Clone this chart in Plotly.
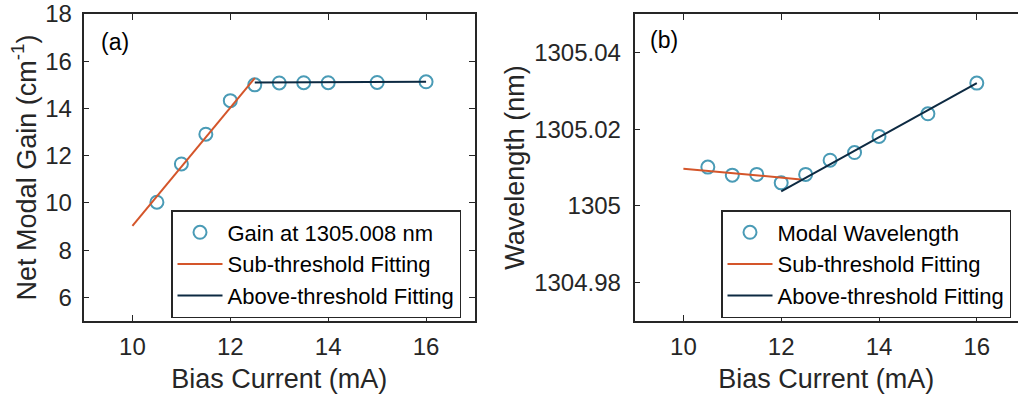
import plotly.graph_objects as go

# ---- data ----
bias_current = [10.5, 11, 11.5, 12, 12.5, 13, 13.5, 14, 15, 16]
gain = [10.03, 11.65, 12.91, 14.33, 15.0, 15.08, 15.09, 15.09, 15.1, 15.13]
gain_sub_x = [10, 12.5]
gain_sub_y = [9.03, 15.28]
gain_above_x = [12.5, 16]
gain_above_y = [15.1, 15.13]

wavelength = [1305.0101, 1305.0080, 1305.0082, 1305.0060, 1305.0082,
              1305.0119, 1305.0139, 1305.0181, 1305.0240, 1305.0320]
wl_sub_x = [10, 12.4]
wl_sub_y = [1305.0097, 1305.0069]
wl_above_x = [12, 16]
wl_above_y = [1305.0038, 1305.0320]

x_ticks = [10, 12, 14, 16]
gain_ticks = [6, 8, 10, 12, 14, 16, 18]
wl_ticks = [1304.98, 1305.0, 1305.02, 1305.04]
wl_tick_labels = ["1304.98", "1305", "1305.02", "1305.04"]

# ---- style ----
C_MARK = "#4A9BB6"
C_SUB = "#D4552A"
C_ABOVE = "#0D2A42"
C_AX = "#262626"
FONT = "Liberation Sans, Arial, Helvetica, sans-serif"

fig = go.Figure()

mk = dict(symbol="circle-open", size=13, line=dict(width=2, color=C_MARK), color=C_MARK)

fig.add_trace(go.Scatter(x=bias_current, y=gain, mode="markers", marker=mk,
                         name="Gain at 1305.008 nm", xaxis="x", yaxis="y",
                         legend="legend", legendgroup="a1"))
fig.add_trace(go.Scatter(x=gain_sub_x, y=gain_sub_y, mode="lines",
                         line=dict(color=C_SUB, width=2),
                         name="Sub-threshold Fitting", xaxis="x", yaxis="y",
                         legend="legend", legendgroup="a2"))
fig.add_trace(go.Scatter(x=gain_above_x, y=gain_above_y, mode="lines",
                         line=dict(color=C_ABOVE, width=2),
                         name="Above-threshold Fitting", xaxis="x", yaxis="y",
                         legend="legend", legendgroup="a3"))

fig.add_trace(go.Scatter(x=bias_current, y=wavelength, mode="markers", marker=mk,
                         name="Modal Wavelength", xaxis="x2", yaxis="y2",
                         legend="legend2", legendgroup="b1"))
fig.add_trace(go.Scatter(x=wl_sub_x, y=wl_sub_y, mode="lines",
                         line=dict(color=C_SUB, width=2),
                         name="Sub-threshold Fitting", xaxis="x2", yaxis="y2",
                         legend="legend2", legendgroup="b2"))
fig.add_trace(go.Scatter(x=wl_above_x, y=wl_above_y, mode="lines",
                         line=dict(color=C_ABOVE, width=2),
                         name="Above-threshold Fitting", xaxis="x2", yaxis="y2",
                         legend="legend2", legendgroup="b3"))

W, H = 1018, 398
axcommon = dict(showline=True, linecolor=C_AX, linewidth=1.5, ticks="inside",
                ticklen=6, tickwidth=1.3, tickcolor=C_AX, showgrid=False,
                zeroline=False, tickfont=dict(size=24, color=C_AX, family=FONT),
                title_font=dict(size=27, color=C_AX, family=FONT))

legcommon = dict(xanchor="left", yanchor="top", xref="paper", yref="paper",
                 bgcolor="white", bordercolor=C_AX, borderwidth=1.5,
                 font=dict(size=22, color="black", family=FONT),
                 tracegroupgap=0, itemwidth=45)

fig.update_layout(
    width=W, height=H, autosize=False,
    margin=dict(l=0, r=0, t=14, b=77),
    plot_bgcolor="white", paper_bgcolor="white",
    font=dict(family=FONT, color=C_AX),
    xaxis=dict(axcommon, domain=[83.5 / W, 475 / W], range=[9, 17], tickvals=x_ticks,
               mirror="ticks", anchor="y", title=dict(text="Bias Current (mA)", standoff=11),
               ticklabelstandoff=3),
    yaxis=dict(axcommon, domain=[0, 1], range=[5, 18], tickvals=gain_ticks,
               mirror="ticks", anchor="x",
               title=dict(text="Net Modal Gain (cm<sup>-1</sup>)", standoff=1),
               ticklabelstandoff=5),
    xaxis2=dict(axcommon, domain=[634.5 / W, 1.0], range=[9, 9 + (1018 - 634.5) / 48.9],
                tickvals=x_ticks, mirror="ticks", anchor="y2",
                title=dict(text="Bias Current (mA)", standoff=11), ticklabelstandoff=3),
    yaxis2=dict(axcommon, domain=[0, 1], range=[1304.97, 1305.05], tickvals=wl_ticks,
                ticktext=wl_tick_labels, mirror=False, anchor="x2",
                title=dict(text="Wavelength (nm)", standoff=2), ticklabelstandoff=7),
    legend=dict(legcommon, x=171 / W, y=(321 - 210) / 307),
    legend2=dict(legcommon, x=721 / W, y=(321 - 210) / 307),
    showlegend=True,
)

fig.add_annotation(text="(a)", x=99 / W, y=(321 - 42) / 307, xref="paper", yref="paper",
                   xanchor="left", yanchor="middle", showarrow=False,
                   font=dict(size=23, color="black", family=FONT))
fig.add_annotation(text="(b)", x=648 / W, y=(321 - 40) / 307, xref="paper", yref="paper",
                   xanchor="left", yanchor="middle", showarrow=False,
                   font=dict(size=23, color="black", family=FONT))

fig.write_html("out.html", config={"displayModeBar": False},
               post_script="document.body.style.margin='0';")
